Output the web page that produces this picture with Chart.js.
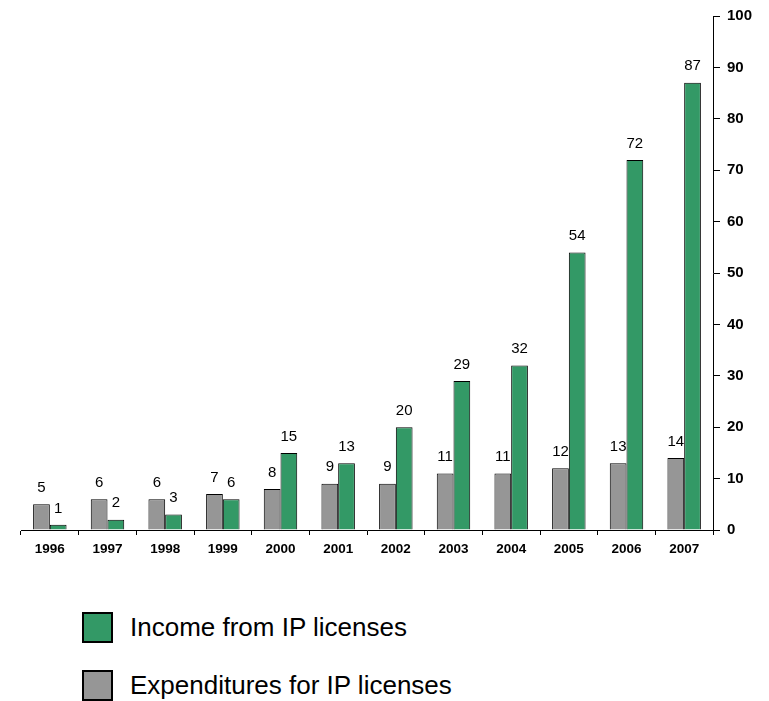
<!DOCTYPE html>
<html>
  <head>
    <title>IP licenses</title>
    <script src="https://cdn.jsdelivr.net/npm/chart.js"></script>
    <style>
      body {
        margin: 0;
        background: #fff;
        font-family: "Liberation Sans", Arial, sans-serif;
      }
      #wrap {
        position: relative;
        width: 769px;
        height: 701px;
      }
      #chart-box {
        position: absolute;
        left: 0;
        top: 0;
        width: 769px;
        height: 575px;
      }
      .legend-item {
        position: absolute;
        left: 82px;
        display: flex;
        align-items: center;
        font-size: 26px;
        line-height: 31px;
        color: #000;
      }
      .legend-item span.box {
        display: inline-block;
        box-sizing: border-box;
        width: 31px;
        height: 31px;
        border: 2px solid #000;
        margin-right: 17px;
      }
    </style>
  </head>
  <body>
    <div id="wrap">
      <div id="chart-box"><canvas id="myChart"></canvas></div>
      <div id="legend"></div>
    </div>

    <script>
      const years = ["1996", "1997", "1998", "1999", "2000", "2001", "2002", "2003", "2004", "2005", "2006", "2007"];
      const expenditures = [5, 6, 6, 7, 8, 9, 9, 11, 11, 12, 13, 14];
      const income = [1, 2, 3, 6, 15, 13, 20, 29, 32, 54, 72, 87];
      const yTicks = [0, 10, 20, 30, 40, 50, 60, 70, 80, 90, 100];

      const greyColor = "#969696";
      const greenColor = "#339966";

      // value labels above each bar
      const valueLabels = {
        id: "valueLabels",
        afterDatasetsDraw(chart) {
          const c = chart.ctx;
          c.save();
          c.font = "15px 'Liberation Sans', Arial, sans-serif";
          c.fillStyle = "#000";
          c.textAlign = "center";
          c.textBaseline = "bottom";
          chart.data.datasets.forEach((ds, i) => {
            chart.getDatasetMeta(i).data.forEach((bar, j) => {
              c.fillText(ds.data[j], bar.x, bar.y - 9);
            });
          });
          c.restore();
        },
      };

      const ctx = document.getElementById("myChart").getContext("2d");
      const chart = new Chart(ctx, {
        type: "bar",
        data: {
          labels: years,
          datasets: [
            {
              label: "Expenditures for IP licenses",
              data: expenditures,
              backgroundColor: greyColor,
              borderColor: "#000",
              borderWidth: 1,
            },
            {
              label: "Income from IP licenses",
              data: income,
              backgroundColor: greenColor,
              borderColor: "#000",
              borderWidth: 1,
            },
          ],
        },
        options: {
          responsive: true,
          maintainAspectRatio: false,
          animation: false,
          categoryPercentage: 0.58,
          barPercentage: 1,
          layout: { padding: { left: 21, top: 15, right: 0, bottom: 0 } },
          plugins: {
            legend: { display: false },
            tooltip: { enabled: false },
          },
          scales: {
            x: {
              grid: {
                display: true,
                drawOnChartArea: false,
                drawTicks: true,
                tickLength: 5,
                color: "#000",
              },
              border: { display: true, color: "#000", width: 1 },
              ticks: {
                color: "#000",
                padding: 6,
                maxRotation: 0,
                font: { family: "'Liberation Sans', Arial, sans-serif", size: 13.5, weight: "bold" },
              },
              afterFit(scale) {
                scale.height = 45;
              },
            },
            y: {
              position: "right",
              min: 0,
              max: 100,
              afterBuildTicks(scale) {
                scale.ticks = yTicks.map((v) => ({ value: v }));
              },
              grid: {
                display: true,
                drawOnChartArea: false,
                drawTicks: true,
                tickLength: 7,
                color: "#000",
              },
              border: { display: true, color: "#000", width: 1 },
              ticks: {
                color: "#000",
                padding: 7,
                font: { family: "'Liberation Sans', Arial, sans-serif", size: 15, weight: "bold" },
              },
              afterFit(scale) {
                scale.width = 56;
              },
            },
          },
        },
        plugins: [valueLabels],
      });

      // legend below the chart, income first
      const legend = document.getElementById("legend");
      [chart.data.datasets[1], chart.data.datasets[0]].forEach((ds, i) => {
        const item = document.createElement("div");
        item.className = "legend-item";
        item.style.top = 612 + i * 58 + "px";
        item.innerHTML = `<span class="box" style="background:${ds.backgroundColor}"></span>${ds.label}`;
        legend.appendChild(item);
      });
    </script>
  </body>
</html>
